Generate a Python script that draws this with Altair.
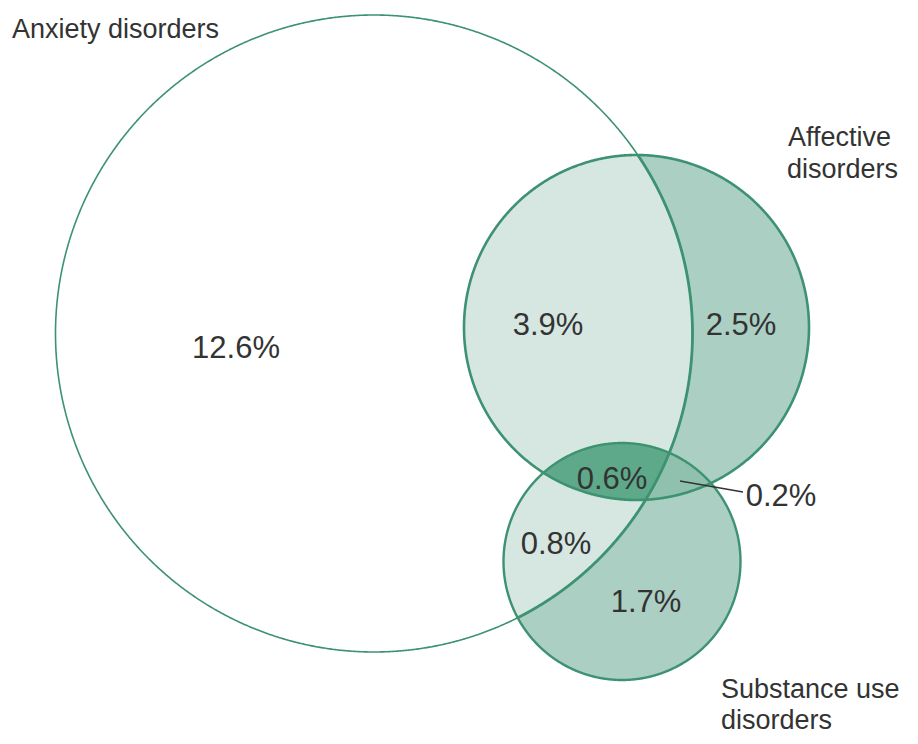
import numpy as np
import pandas as pd
import altair as alt

# ---- data -------------------------------------------------------------
set_names = ["Anxiety disorders", "Affective disorders", "Substance use disorders"]
circle_cx = [374.0, 636.5, 622.0]
circle_cy = [333.5, 327.5, 561.5]
circle_r = [318.5, 172.5, 118.5]

region_labels = ["12.6%", "3.9%", "2.5%", "0.6%", "0.2%", "0.8%", "1.7%"]
region_x = [236, 548, 741, 612, 781, 556, 646]
region_y = [349, 326, 326, 480, 497, 545, 603]

name_lines = ["Anxiety disorders", "Affective", "disorders", "Substance use", "disorders"]
name_x = [12, 788, 787, 721, 721]
name_y = [38, 146, 178, 698, 729]

leader_from = [680, 481]
leader_to = [743, 492]

# ---- colours ----------------------------------------------------------
OUTER_FILL = "#accfc3"
LENS_FILL = "#90c1af"
CORE_FILL = "#5ea98a"
STROKE = "#3d9272"
TEXT = "#333333"
FONT = "Liberation Sans"

# ---- geometry helpers (derived from the circle arrays) ----------------
def circle_points(i, n=1440, start=0.0):
    t = np.linspace(start, start + 2 * np.pi, n, endpoint=False)
    return np.column_stack([circle_cx[i] + circle_r[i] * np.cos(t),
                            circle_cy[i] + circle_r[i] * np.sin(t)])


def inside(pts, j, tol=1e-6):
    return (pts[:, 0] - circle_cx[j]) ** 2 + (pts[:, 1] - circle_cy[j]) ** 2 <= circle_r[j] ** 2 + tol


def pair_intersections(i, j):
    x0, y0, r0 = circle_cx[i], circle_cy[i], circle_r[i]
    x1, y1, r1 = circle_cx[j], circle_cy[j], circle_r[j]
    d = np.hypot(x1 - x0, y1 - y0)
    a = (r0 ** 2 - r1 ** 2 + d ** 2) / (2 * d)
    h = np.sqrt(max(r0 ** 2 - a ** 2, 0))
    xm = x0 + a * (x1 - x0) / d
    ym = y0 + a * (y1 - y0) / d
    return np.array([[xm + h * (y1 - y0) / d, ym - h * (x1 - x0) / d],
                     [xm - h * (y1 - y0) / d, ym + h * (x1 - x0) / d]])


def intersection_ring(ids):
    parts = []
    for i in ids:
        p = circle_points(i)
        m = np.ones(len(p), bool)
        for j in ids:
            if j != i:
                m &= inside(p, j)
        parts.append(p[m])
    for a in range(len(ids)):
        for b in range(a + 1, len(ids)):
            q = pair_intersections(ids[a], ids[b])
            m = np.ones(len(q), bool)
            for k in ids:
                if k not in (ids[a], ids[b]):
                    m &= inside(q, k, tol=1e-3)
            parts.append(q[m])
    pts = np.vstack(parts)
    c = pts.mean(axis=0)
    order = np.argsort(np.arctan2(pts[:, 1] - c[1], pts[:, 0] - c[0]))
    ring = pts[order]
    ring = np.vstack([ring, ring[:1]])
    return ring.tolist()


def circle_ring(i):
    p = circle_points(i)
    return np.vstack([p, p[:1]]).tolist()


def polygon_feature(ring, name):
    return {"type": "Feature", "properties": {"name": name},
            "geometry": {"type": "Polygon", "coordinates": [ring]}}


def line_feature(coords, name):
    return {"type": "Feature", "properties": {"name": name},
            "geometry": {"type": "LineString", "coordinates": coords}}


# anxiety arc lying inside affective or substance (drawn heavier)
anx = circle_points(0, n=2880, start=-np.pi)
arc_mask = inside(anx, 1) | inside(anx, 2)
anx_arc = anx[arc_mask].tolist()


def shape_layer(feature, **mark):
    return alt.Chart(alt.Data(values=[feature])).mark_geoshape(**mark).project(
        type="identity", scale=1, translate=[-8, -8])


layers = [
    shape_layer(polygon_feature(circle_ring(1), set_names[1]), fill=OUTER_FILL, strokeWidth=0),
    shape_layer(polygon_feature(circle_ring(2), set_names[2]), fill=OUTER_FILL, strokeWidth=0),
    shape_layer(polygon_feature(intersection_ring([1, 2]), "lens"), fill=LENS_FILL, strokeWidth=0),
    shape_layer(polygon_feature(circle_ring(0), set_names[0]), fill="white", fillOpacity=0.5, strokeWidth=0),
    shape_layer(polygon_feature(intersection_ring([0, 1, 2]), "core"), fill=CORE_FILL, strokeWidth=0),
    shape_layer(line_feature(circle_ring(0), "anx outline"), filled=False, stroke=STROKE, strokeWidth=1.6),
    shape_layer(line_feature(circle_ring(1), "aff outline"), filled=False, stroke=STROKE, strokeWidth=2.6),
    shape_layer(line_feature(circle_ring(2), "sub outline"), filled=False, stroke=STROKE, strokeWidth=2.4),
    shape_layer(line_feature(anx_arc, "anx arc"), filled=False, stroke=STROKE, strokeWidth=2.8),
    shape_layer(line_feature([leader_from, leader_to], "leader"), filled=False, stroke=TEXT, strokeWidth=1.3),
]

region_df = pd.DataFrame({"label": region_labels, "x": region_x, "y": region_y})
name_df = pd.DataFrame({"label": name_lines, "x": name_x, "y": name_y})

region_text = alt.Chart(region_df).mark_text(
    font=FONT, fontSize=31, color=TEXT, align="center", baseline="middle"
).encode(longitude="x:Q", latitude="y:Q", text="label:N").project(
    type="identity", scale=1, translate=[-8, -8])

name_text = alt.Chart(name_df).mark_text(
    font=FONT, fontSize=27, color=TEXT, align="left", baseline="alphabetic"
).encode(longitude="x:Q", latitude="y:Q", text="label:N").project(
    type="identity", scale=1, translate=[-8, -8])

chart = alt.layer(*layers, region_text, name_text).properties(
    width=902, height=726, padding=0, background="white"
).configure_view(stroke=None)

chart.save("out.html", embed_options={"renderer": "svg", "actions": False})
